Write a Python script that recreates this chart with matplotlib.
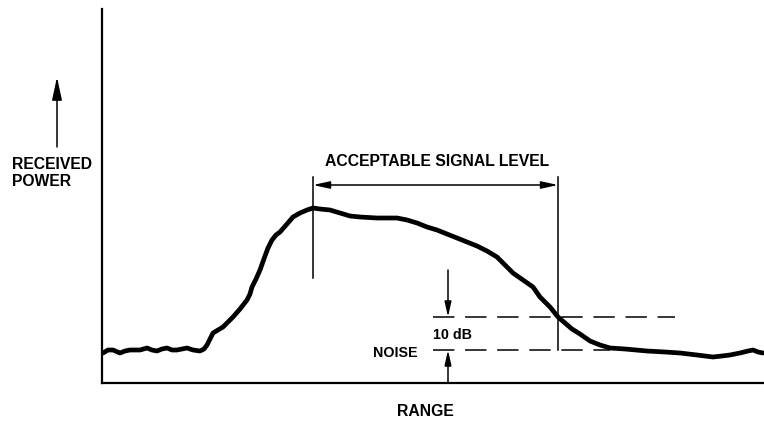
import matplotlib
matplotlib.use("Agg")
import matplotlib.pyplot as plt
import numpy as np

plt.rcParams['font.family'] = ['Liberation Sans', 'DejaVu Sans']

# received power trace (range units, power units)
range_pts = [1, 6, 11, 18, 23, 28, 38, 45, 50, 55, 60, 65, 70, 75, 80, 85, 91, 98, 102, 105,
             108, 111, 116, 121, 126, 131, 138, 145, 148, 150, 154, 158, 163, 166, 170, 174,
             178, 185, 191, 198, 205, 211, 218, 228, 238, 248, 258, 275, 285, 295, 305, 315,
             325, 335, 345, 355, 365, 375, 385, 395, 403, 411, 421, 431, 438, 448, 456, 463,
             470, 478, 488, 498, 508, 523, 545, 563, 578, 595, 603, 611, 620, 628, 638, 646,
             651, 656, 661]
power_pts = [30, 33, 33, 30, 32, 33, 33, 35, 33, 32, 34, 35, 33, 33, 34, 35, 33, 32, 34, 38,
             44, 50, 53, 56, 61, 66, 74, 83, 89, 96, 104, 113, 127, 135, 143, 148, 151, 159,
             166, 170, 173, 175, 174, 173, 170, 167, 166, 165, 165, 165, 163, 160, 156, 153,
             149, 145, 141, 137, 132, 126, 118, 110, 103, 96, 86, 76, 66, 60, 54, 49, 42, 38,
             35, 34, 32, 31, 30, 28, 27, 26, 27, 28, 30, 32, 33, 31, 30]

peak_range = 211      # start of acceptable region
cutoff_range = 456    # end of acceptable region
noise_level = 33
ten_db_level = 66
marker_range = 346    # where the 10 dB arrows sit

fig = plt.figure(figsize=(7.64, 4.24), dpi=100)
ax = fig.add_axes([102 / 764, 41 / 424, 662 / 764, 374 / 424])
ax.set_xlim(0, 662)
ax.set_ylim(0, 374)
for side in ['top', 'right']:
    ax.spines[side].set_visible(False)
for side in ['left', 'bottom']:
    ax.spines[side].set_linewidth(1.6)
ax.set_xticks([])
ax.set_yticks([])

ax.plot(range_pts, power_pts, color='black', lw=3.4, solid_capstyle='round',
        solid_joinstyle='round')

big = dict(fontweight='bold', fontsize=11.3, color='black')
small = dict(fontweight='bold', fontsize=10.3, color='black')

# acceptable signal level bracket
ax.plot([peak_range, peak_range], [105, 206], color='black', lw=1.1)
ax.plot([cutoff_range, cutoff_range], [noise_level, 206], color='black', lw=1.1)
ax.annotate('', xy=(peak_range, 198), xytext=(cutoff_range, 198),
            arrowprops=dict(arrowstyle='<|-|>,head_length=1.0,head_width=0.22',
                            color='black', lw=1.1, shrinkA=0, shrinkB=0))
ax.text((peak_range + cutoff_range) / 2 + 2, 221, 'ACCEPTABLE SIGNAL LEVEL',
        ha='center', va='center', **big)

# noise and 10 dB dashed levels
ax.plot([331, 573], [ten_db_level, ten_db_level], color='black', lw=1.1, dashes=(14, 7))
ax.plot([331, 508], [noise_level, noise_level], color='black', lw=1.1, dashes=(14, 7))
ax.annotate('', xy=(marker_range, ten_db_level), xytext=(marker_range, 113),
            arrowprops=dict(arrowstyle='-|>,head_length=0.9,head_width=0.2',
                            color='black', lw=1.1, shrinkA=0, shrinkB=0))
ax.annotate('', xy=(marker_range, noise_level), xytext=(marker_range, 0),
            arrowprops=dict(arrowstyle='-|>,head_length=0.9,head_width=0.2',
                            color='black', lw=1.1, shrinkA=0, shrinkB=0))
ax.text(331, 48, '10 dB', ha='left', va='center', **small)
ax.text(316, 30, 'NOISE', ha='right', va='center', **small)

# axis labels
ax.annotate('', xy=(-45, 306), xytext=(-45, 236), annotation_clip=False,
            arrowprops=dict(arrowstyle='-|>,head_length=1.4,head_width=0.3',
                            color='black', lw=1.1, shrinkA=0, shrinkB=0))
ax.text(-90, 210, 'RECEIVED\nPOWER', ha='left', va='center', linespacing=1.15,
        clip_on=False, **big)
ax.text(323, -28, 'RANGE', ha='center', va='center', clip_on=False, **big)

fig.savefig('out.png', dpi=100)
